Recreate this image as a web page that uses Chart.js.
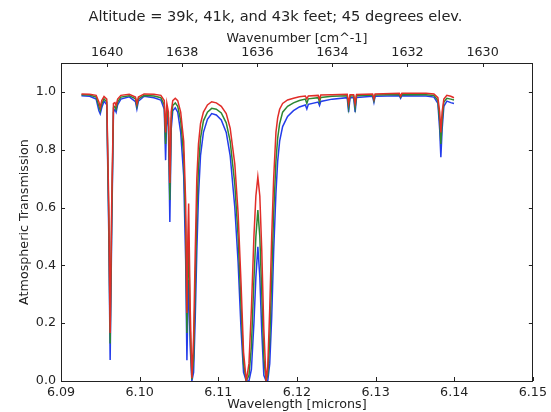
<!DOCTYPE html>
<html>
<head>
<meta charset="utf-8">
<script src="https://cdn.jsdelivr.net/npm/chart.js@4.4.0/dist/chart.umd.min.js"></script>
<style>
    html, body { margin: 0; padding: 0; background: #fff; }
    #wrap { width: 551px; height: 412px; }
</style>
</head>
<body>
<div id="wrap"><canvas id="transChart" width="551" height="412"></canvas></div>
<script>
// Wavelength samples [microns]
const wavelength = [
    6.09260, 6.09365, 6.09447, 6.09482, 6.09499, 6.09518, 6.09547, 6.09582, 6.09608, 6.09625,
    6.09644, 6.09667, 6.09686, 6.09701, 6.09720, 6.09761, 6.09868, 6.09947, 6.09965, 6.09984,
    6.10057, 6.10182, 6.10270, 6.10313, 6.10330, 6.10346, 6.10366, 6.10384, 6.10401, 6.10421,
    6.10453, 6.10484, 6.10522, 6.10560, 6.10585, 6.10601, 6.10613, 6.10623, 6.10643, 6.10664,
    6.10686, 6.10707, 6.10727, 6.10748, 6.10774, 6.10811, 6.10862, 6.10916, 6.10975, 6.11038,
    6.11101, 6.11151, 6.11210, 6.11252, 6.11289, 6.11321, 6.11356, 6.11390, 6.11421, 6.11453,
    6.11478, 6.11503, 6.11528, 6.11553, 6.11579, 6.11608, 6.11629, 6.11654, 6.11679, 6.11704,
    6.11733, 6.11755, 6.11780, 6.11818, 6.11881, 6.11956, 6.12031, 6.12107, 6.12126, 6.12145,
    6.12270, 6.12287, 6.12303, 6.12447, 6.12639, 6.12657, 6.12675, 6.12721, 6.12740, 6.12758,
    6.12962, 6.12979, 6.12994, 6.13302, 6.13318, 6.13334, 6.13642, 6.13742, 6.13792, 6.13815,
    6.13830, 6.13846, 6.13868, 6.13906, 6.13956, 6.13997
];

// 43k feet (red)
const trans43k = [
    .993, .992, .988, .965, .947, .970, .984, .975, .600, .166,
    .600, .960, .963, .953, .975, .988, .992, .982, .959, .982,
    .993, .992, .988, .970, .860, .960, .930, .685, .930, .970,
    .978, .970, .930, .830, .620, .235, .500, .614, .250, .010,
    .150, .450, .700, .820, .890, .930, .955, .966, .962, .950,
    .925, .875, .750, .580, .340, .100, .000, .060, .250, .500,
    .640, .706, .640, .450, .180, .000, .050, .250, .500, .700,
    .860, .910, .940, .960, .972, .978, .983, .986, .976, .986,
    .988, .975, .989, .990, .992, .960, .990, .990, .960, .991,
    .993, .975, .993, .995, .985, .995, .995, .993, .980, .930,
    .860, .930, .975, .988, .985, .980
];

// 41k feet (green)
const trans41k = [
    .990, .989, .982, .950, .935, .958, .976, .965, .550, .130,
    .550, .945, .950, .940, .965, .982, .987, .976, .950, .976,
    .988, .986, .980, .955, .820, .945, .910, .626, .900, .953,
    .962, .950, .900, .780, .530, .166, .380, .487, .180, .005,
    .080, .330, .580, .740, .840, .900, .930, .943, .940, .927,
    .893, .830, .680, .500, .260, .060, .000, .020, .120, .350,
    .500, .591, .500, .300, .080, .000, .020, .140, .360, .580,
    .760, .840, .890, .930, .950, .962, .970, .975, .960, .976,
    .980, .965, .981, .985, .987, .945, .986, .986, .945, .987,
    .989, .970, .989, .991, .982, .991, .990, .988, .970, .900,
    .820, .900, .965, .978, .975, .972
];

// 39k feet (blue)
const trans39k = [
    .987, .985, .975, .935, .924, .945, .968, .955, .500, .073,
    .500, .930, .940, .930, .955, .975, .983, .966, .941, .968,
    .985, .980, .972, .940, .764, .930, .880, .550, .870, .935,
    .945, .930, .860, .710, .420, .072, .250, .349, .120, .000,
    .030, .220, .450, .640, .780, .860, .905, .925, .920, .903,
    .860, .780, .600, .410, .180, .030, .000, .000, .040, .200,
    .360, .464, .360, .170, .020, .000, .000, .060, .220, .450,
    .650, .760, .830, .880, .915, .935, .948, .955, .941, .957,
    .965, .953, .967, .975, .980, .930, .980, .980, .930, .981,
    .985, .964, .985, .987, .978, .987, .986, .982, .960, .870,
    .774, .870, .950, .968, .963, .960
];

// Tick labels
const wavelengthTicks = [6.09, 6.10, 6.11, 6.12, 6.13, 6.14, 6.15];
const wavenumberTicks = [1640, 1638, 1636, 1634, 1632, 1630];
const transTicks = [0.0, 0.2, 0.4, 0.6, 0.8, 1.0];

document.addEventListener('DOMContentLoaded', () => {
    const axisColor = '#222';
    Chart.defaults.font.family = "'DejaVu Sans', sans-serif";
    Chart.defaults.font.size = 12.7;
    Chart.defaults.color = '#222';

    const toPoints = ys => wavelength.map((x, i) => ({ x: x, y: ys[i] }));
    const setTicks = list => scale => { scale.ticks = list.map(v => ({ value: v })); };

    // matplotlib style tick marks pointing into the plot
    const innerTicks = {
        id: 'innerTicks',
        afterDraw(chart) {
            const { ctx, chartArea: a, scales } = chart;
            const len = 4;
            ctx.save();
            ctx.strokeStyle = axisColor;
            ctx.lineWidth = 1;
            ctx.beginPath();
            scales.x.ticks.forEach(t => {
                const px = Math.round(scales.x.getPixelForValue(t.value)) + 0.5;
                ctx.moveTo(px, a.bottom);
                ctx.lineTo(px, a.bottom - len);
            });
            scales.x2.ticks.forEach(t => {
                const px = Math.round(scales.x2.getPixelForValue(t.value)) + 0.5;
                ctx.moveTo(px, a.top);
                ctx.lineTo(px, a.top + len);
            });
            scales.y.ticks.forEach(t => {
                const py = Math.round(scales.y.getPixelForValue(t.value)) + 0.5;
                ctx.moveTo(a.left, py);
                ctx.lineTo(a.left + len, py);
                ctx.moveTo(a.right, py);
                ctx.lineTo(a.right - len, py);
            });
            ctx.stroke();
            ctx.restore();
        }
    };

    const ctx = document.getElementById('transChart').getContext('2d');
    new Chart(ctx, {
        type: 'line',
        data: {
            datasets: [
                { label: '39k', data: toPoints(trans39k), borderColor: 'rgb(35, 60, 235)', order: 3 },
                { label: '41k', data: toPoints(trans41k), borderColor: 'rgb(45, 135, 50)', order: 2 },
                { label: '43k', data: toPoints(trans43k), borderColor: 'rgb(225, 45, 40)', order: 1 }
            ]
        },
        options: {
            responsive: false,
            animation: false,
            layout: { padding: 0 },
            elements: {
                point: { radius: 0 },
                line: { borderWidth: 1.5, tension: 0, fill: false }
            },
            plugins: {
                legend: { display: false },
                tooltip: { enabled: false },
                title: {
                    display: true,
                    text: 'Altitude = 39k, 41k, and 43k feet; 45 degrees elev.',
                    font: { size: 14.6, weight: 'normal', lineHeight: '18px' },
                    padding: { top: 8, bottom: 0 },
                    color: '#222'
                }
            },
            scales: {
                x: {
                    type: 'linear',
                    position: 'bottom',
                    min: 6.09,
                    max: 6.15,
                    afterBuildTicks: setTicks(wavelengthTicks),
                    afterFit: s => { s.height = 31; },
                    grid: { display: false, drawTicks: false },
                    border: { color: axisColor, width: 1 },
                    ticks: { padding: 4, maxRotation: 0, autoSkip: false, callback: v => Number(v).toFixed(2) },
                    title: { display: true, text: 'Wavelength [microns]', padding: { top: 0, bottom: 0 }, font: { lineHeight: '14px' } }
                },
                x2: {
                    type: 'linear',
                    position: 'top',
                    reverse: true,
                    min: 1628.66,
                    max: 1641.23,
                    afterBuildTicks: setTicks(wavenumberTicks),
                    afterFit: s => { s.height = 37; },
                    grid: { display: false, drawTicks: false },
                    border: { color: axisColor, width: 1 },
                    ticks: { padding: 3, maxRotation: 0, autoSkip: false, callback: v => String(v) },
                    title: { display: true, text: 'Wavenumber [cm^-1]', padding: { top: 6, bottom: 0 }, font: { lineHeight: '14px' } }
                },
                y: {
                    position: 'left',
                    min: 0,
                    max: 1.1,
                    afterBuildTicks: setTicks(transTicks),
                    afterFit: s => { s.width = 61; },
                    grid: { display: false, drawTicks: false },
                    border: { color: axisColor, width: 1 },
                    ticks: { padding: 5, callback: v => Number(v).toFixed(1) },
                    title: { display: true, text: 'Atmospheric Transmission', padding: { top: 18, bottom: 0 }, font: { lineHeight: '14px' } }
                },
                y2: {
                    position: 'right',
                    min: 0,
                    max: 1.1,
                    afterBuildTicks: setTicks(transTicks),
                    afterFit: s => { s.width = 13; },
                    grid: { display: false, drawTicks: false },
                    border: { color: axisColor, width: 1 },
                    ticks: { display: false }
                }
            }
        },
        plugins: [innerTicks]
    });
});
</script>
</body>
</html>
